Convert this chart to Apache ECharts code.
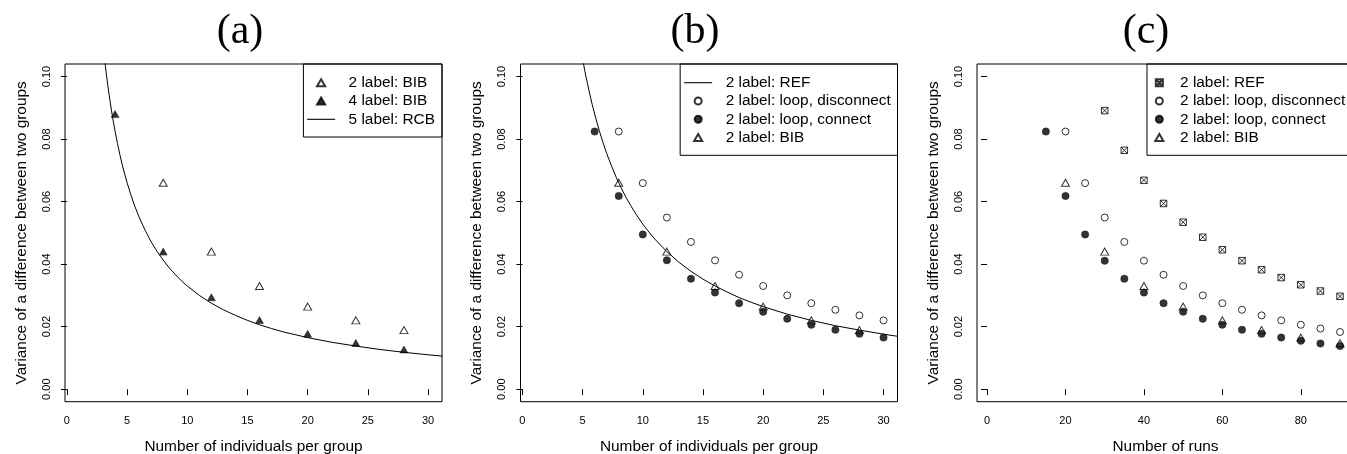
<!DOCTYPE html>
<html><head><meta charset="utf-8">
<script src="https://cdn.jsdelivr.net/npm/echarts@6/dist/echarts.min.js"></script>
<style>html,body{margin:0;padding:0;background:#fff}#c{width:1347px;height:454px}</style>
</head><body><div id="c"></div><script>
// ---- tick labels / texts ----
const xTicksN = [0, 5, 10, 15, 20, 25, 30];
const xTicksRuns = [0, 20, 40, 60, 80];
const yTicks = [0, 0.02, 0.04, 0.06, 0.08, 0.10];
const panelTitles = ['(a)', '(b)', '(c)'];
const xNames = ['Number of individuals per group', 'Number of individuals per group', 'Number of runs'];
const yName = 'Variance of a difference between two groups';

// ---- panel (a) ----
const aX2BIB = [8, 12, 16, 20, 24, 28];
const aY2BIB = [0.066, 0.044, 0.033, 0.0264, 0.022, 0.0189];
const aX4BIB = [4, 8, 12, 16, 20, 24, 28];
const aY4BIB = [0.088, 0.044, 0.0294, 0.0221, 0.0177, 0.0148, 0.0127];
const aXRCB = [3.1, 3.2, 3.3, 3.4, 3.5, 3.6, 3.8, 4.0, 4.2, 4.4, 4.6, 4.8, 5.0, 5.3, 5.6, 6.0, 6.5, 7.0, 7.5, 8.0, 8.5, 9, 9.5, 10, 11, 12, 13, 14, 15, 16, 17, 18, 19, 20, 22, 24, 26, 28, 30, 31.2];
const aYRCB = [0.1065, 0.1031, 0.1, 0.0971, 0.0943, 0.0917, 0.0868, 0.0825, 0.0786, 0.075, 0.0717, 0.0688, 0.066, 0.0623, 0.0589, 0.055, 0.0508, 0.0471, 0.044, 0.0413, 0.0388, 0.0367, 0.0347, 0.033, 0.03, 0.0275, 0.0254, 0.0236, 0.022, 0.0206, 0.0194, 0.0183, 0.0174, 0.0165, 0.015, 0.0138, 0.0127, 0.0118, 0.011, 0.0106];

// ---- panel (b) ----
const bXREF = [5.0, 5.1, 5.2, 5.3, 5.4, 5.6, 5.8, 6.0, 6.2, 6.4, 6.7, 7.0, 7.4, 7.8, 8.2, 8.6, 9.0, 9.5, 10, 10.5, 11, 12, 13, 14, 15, 16, 17, 18, 19, 20, 22, 24, 26, 28, 30, 31.2];
const bYREF = [0.1056, 0.1035, 0.1015, 0.0996, 0.0978, 0.0943, 0.091, 0.088, 0.0852, 0.0825, 0.0788, 0.0754, 0.0714, 0.0677, 0.0644, 0.0614, 0.0587, 0.0556, 0.0528, 0.0503, 0.048, 0.044, 0.0406, 0.0377, 0.0352, 0.033, 0.0311, 0.0293, 0.0278, 0.0264, 0.024, 0.022, 0.0203, 0.0189, 0.0176, 0.0169];
const bXDisc = [8, 10, 12, 14, 16, 18, 20, 22, 24, 26, 28, 30];
const bYDisc = [0.0824, 0.0659, 0.0549, 0.0471, 0.0412, 0.0366, 0.033, 0.03, 0.0275, 0.0254, 0.0236, 0.022];
const bXConn = [6, 8, 10, 12, 14, 16, 18, 20, 22, 24, 26, 28, 30];
const bYConn = [0.0824, 0.0618, 0.0495, 0.0412, 0.0353, 0.0309, 0.0275, 0.0248, 0.0225, 0.0206, 0.019, 0.0177, 0.0165];
const bXBIB = [8, 12, 16, 20, 24, 28];
const bYBIB = [0.066, 0.044, 0.033, 0.0264, 0.022, 0.0189];

// ---- panel (c) ----
const cXREF = [30, 35, 40, 45, 50, 55, 60, 65, 70, 75, 80, 85, 90];
const cYREF = [0.0891, 0.0764, 0.0668, 0.0594, 0.0534, 0.0486, 0.0446, 0.0411, 0.0382, 0.0357, 0.0334, 0.0314, 0.0297];
const cXDisc = [20, 25, 30, 35, 40, 45, 50, 55, 60, 65, 70, 75, 80, 85, 90];
const cYDisc = [0.0824, 0.0659, 0.0549, 0.0471, 0.0411, 0.0366, 0.033, 0.03, 0.0275, 0.0254, 0.0236, 0.022, 0.0206, 0.0194, 0.0183];
const cXConn = [15, 20, 25, 30, 35, 40, 45, 50, 55, 60, 65, 70, 75, 80, 85, 90];
const cYConn = [0.0824, 0.0618, 0.0495, 0.0411, 0.0353, 0.0309, 0.0275, 0.0248, 0.0225, 0.0206, 0.019, 0.0177, 0.0165, 0.0155, 0.0146, 0.0138];
const cXBIB = [20, 30, 40, 50, 60, 70, 80, 90];
const cYBIB = [0.066, 0.044, 0.033, 0.0264, 0.022, 0.0189, 0.0165, 0.0147];

// ---- build ----
const zip = (xs, ys) => xs.map((x, i) => [x, ys[i]]);
const FONT = '"Liberation Sans", Arial, sans-serif';
const ZW = '\u200b';
const TRI = 'path://M5,0L10,8.66L0,8.66Z';
const XSQ = 'path://M0,0H10V10H0Z M0,0L10,10 M10,0L0,10';
const LINEICON = 'path://M0,0H28V1.1H0Z';
const NONE = 'rgba(0,0,0,0)';

const openTri = {symbol: TRI, symbolSize: [8, 7], itemStyle: {color: NONE, borderColor: '#000', borderWidth: 1}};
const fillTri = {symbol: TRI, symbolSize: [8, 7], itemStyle: {color: '#000', borderColor: '#000', borderWidth: 0.5}};
const openCirc = {symbol: 'circle', symbolSize: 7, itemStyle: {color: NONE, borderColor: '#000', borderWidth: 1}};
const fillCirc = {symbol: 'circle', symbolSize: 7.5, itemStyle: {color: '#000', borderColor: '#000', borderWidth: 0.3}};
const xSq = {symbol: XSQ, symbolSize: 6.5, itemStyle: {color: NONE, borderColor: '#000', borderWidth: 1}};

function sc(name, idx, xs, ys, sty) {
  return Object.assign({type: 'scatter', name, xAxisIndex: idx, yAxisIndex: idx, data: zip(xs, ys), silent: true, z: 3}, sty);
}
function ln(name, idx, xs, ys) {
  return {type: 'line', name, xAxisIndex: idx, yAxisIndex: idx, data: zip(xs, ys), symbol: 'none', showSymbol: false,
    smooth: false, clip: true, silent: true, z: 2,
    lineStyle: {color: '#000', width: 1}, itemStyle: {color: '#000'}};
}

const gridDefs = [
  {left: 65, top: 64, width: 377, height: 337.7},
  {left: 520.5, top: 64, width: 377, height: 337.7},
  {left: 977, top: 64, width: 377, height: 337.7}
];
const xRanges = [[-0.16, 31.16], [-0.16, 31.16], [-2.56, 93.56]];
const xTickSets = [xTicksN, xTicksN, xTicksRuns];
const titleX = [240, 695, 1146];

const legendCommon = {
  top: 64, orient: 'vertical', align: 'left', selectedMode: false,
  itemHeight: 7, itemGap: 2.3, borderColor: '#000', borderWidth: 1, backgroundColor: NONE
};
const legendText = pad => ({fontFamily: FONT, fontSize: 15.4, lineHeight: 16, color: '#000', padding: [0, 0, 0, pad]});

const option = {
  animation: false,
  backgroundColor: '#fff',
  grid: gridDefs.map(g => Object.assign({show: true, borderColor: '#000', borderWidth: 1, backgroundColor: NONE, containLabel: false, outerBoundsMode: 'none'}, g)),
  xAxis: gridDefs.map((g, i) => ({
    type: 'value', gridIndex: i, min: xRanges[i][0], max: xRanges[i][1],
    name: xNames[i], nameLocation: 'middle', nameGap: 38,
    nameTextStyle: {fontFamily: FONT, fontSize: 15.4, color: '#000'},
    axisLine: {show: false}, splitLine: {show: false},
    axisTick: {show: true, customValues: xTickSets[i], length: 6, lineStyle: {color: '#000', width: 1}},
    axisLabel: {show: true, customValues: xTickSets[i], margin: 14, fontFamily: FONT, fontSize: 11, color: '#000',
      formatter: v => String(Math.round(v))}
  })),
  yAxis: gridDefs.map((g, i) => ({
    type: 'value', gridIndex: i, min: -0.004, max: 0.104,
    name: yName, nameLocation: 'middle', nameGap: 36, nameRotate: 90,
    nameTextStyle: {fontFamily: FONT, fontSize: 15.4, color: '#000'},
    axisLine: {show: false}, splitLine: {show: false},
    axisTick: {show: true, customValues: yTicks, length: 6, lineStyle: {color: '#000', width: 1}},
    axisLabel: {show: true, customValues: yTicks, rotate: 90, margin: 13, fontFamily: FONT, fontSize: 11, color: '#000',
      formatter: v => v.toFixed(2)}
  })),
  legend: [
    Object.assign({}, legendCommon, {right: 905, itemWidth: 28, padding: [10.7, 7, 9.7, 3.7], textStyle: legendText(8.5),
      data: [{name: '2 label: BIB', icon: TRI}, {name: '4 label: BIB', icon: TRI}, {name: '5 label: RCB', icon: LINEICON}]}),
    Object.assign({}, legendCommon, {right: 449.5, itemWidth: 28, padding: [10.7, 6.7, 9.7, 4], textStyle: legendText(8.5),
      data: [{name: '2 label: REF', icon: LINEICON}, {name: '2 label: loop, disconnect', icon: 'circle'}, {name: '2 label: loop, connect', icon: 'circle'}, {name: '2 label: BIB' + ZW, icon: TRI}]}),
    Object.assign({}, legendCommon, {left: 1147, itemWidth: 14, padding: [10.7, 10, 9.7, 7.3], textStyle: legendText(8.7),
      data: [{name: '2 label: REF' + ZW, icon: XSQ}, {name: '2 label: loop, disconnect' + ZW, icon: 'circle'}, {name: '2 label: loop, connect' + ZW, icon: 'circle'}, {name: '2 label: BIB' + ZW + ZW, icon: TRI}]})
  ],
  graphic: panelTitles.map((t, i) => ({
    type: 'text', x: titleX[i], y: 32, silent: true,
    style: {text: t, fontFamily: '"Liberation Serif", "Times New Roman", serif', fontSize: 42, fill: '#000', align: 'center', verticalAlign: 'middle'}
  })),
  series: [
    ln('5 label: RCB', 0, aXRCB, aYRCB),
    sc('2 label: BIB', 0, aX2BIB, aY2BIB, openTri),
    sc('4 label: BIB', 0, aX4BIB, aY4BIB, fillTri),
    ln('2 label: REF', 1, bXREF, bYREF),
    sc('2 label: loop, disconnect', 1, bXDisc, bYDisc, openCirc),
    sc('2 label: loop, connect', 1, bXConn, bYConn, fillCirc),
    sc('2 label: BIB' + ZW, 1, bXBIB, bYBIB, openTri),
    sc('2 label: REF' + ZW, 2, cXREF, cYREF, xSq),
    sc('2 label: loop, disconnect' + ZW, 2, cXDisc, cYDisc, openCirc),
    sc('2 label: loop, connect' + ZW, 2, cXConn, cYConn, fillCirc),
    sc('2 label: BIB' + ZW + ZW, 2, cXBIB, cYBIB, openTri)
  ]
};
const chart = echarts.init(document.getElementById('c'), null, {renderer: 'canvas'});
chart.setOption(option);
</script></body></html>
